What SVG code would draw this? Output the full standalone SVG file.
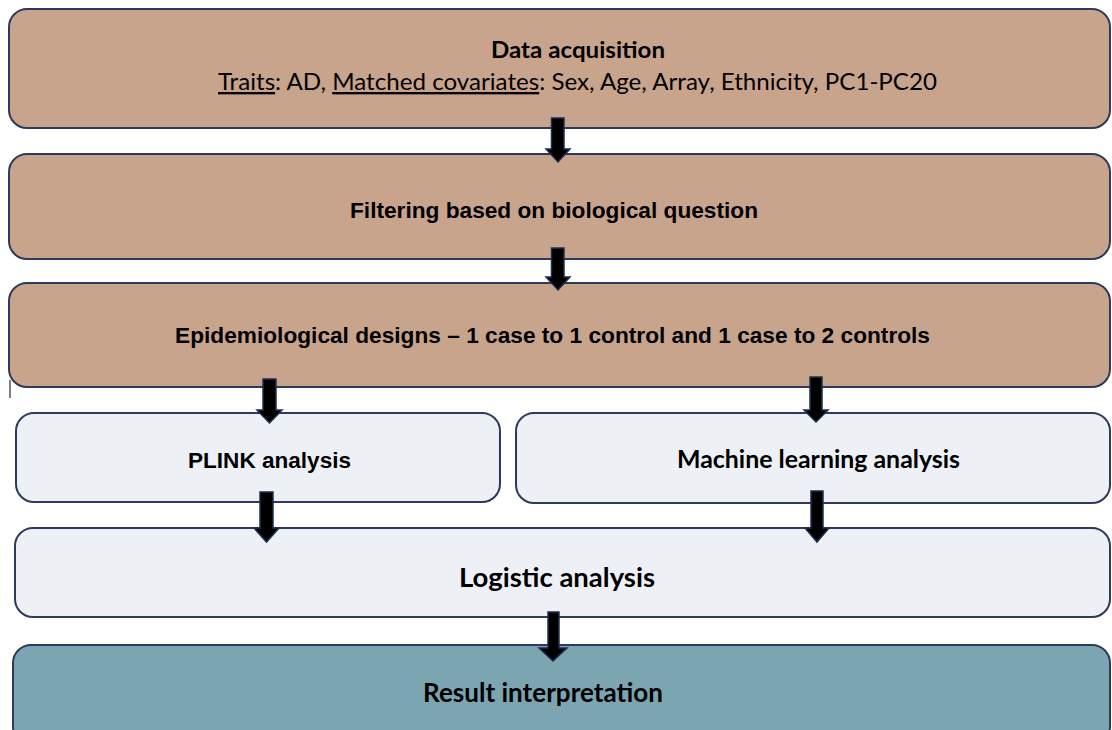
<svg xmlns="http://www.w3.org/2000/svg" width="1112" height="730" viewBox="0 0 1112 730">
<defs>
<style>
.brown{fill:#c8a48d;stroke:#2e3a59;stroke-width:2}
.light{fill:#edf0f5;stroke:#2e3a59;stroke-width:2}
.teal{fill:#7aa5b1;stroke:#2e3a59;stroke-width:2}
.cal{font-family:Lato,"Open Sans",sans-serif;fill:#000}
.ari{font-family:"Liberation Sans",Arial,sans-serif;font-weight:bold;fill:#000}
.arrow{fill:#000;stroke:#1f2f52;stroke-width:1.5;stroke-linejoin:miter}
</style>
</defs>
<rect width="1112" height="730" fill="#ffffff"/>
<g id="node-data">
<rect class="brown" x="9" y="9" width="1101" height="119" rx="18"/>
<text class="cal" x="578" y="58" font-size="23.5" font-weight="bold" text-anchor="middle" textLength="174" lengthAdjust="spacingAndGlyphs">Data acquisition</text>
<text class="cal" x="577.5" y="90" font-size="23.5" text-anchor="middle" textLength="719" lengthAdjust="spacingAndGlyphs"><tspan text-decoration="underline">Traits</tspan>: AD, <tspan text-decoration="underline">Matched covariates</tspan>: Sex, Age, Array, Ethnicity, PC1-PC20</text>
</g>
<g id="node-filter">
<rect class="brown" x="9" y="154" width="1101" height="105" rx="18"/>
<text class="ari" x="554" y="218" font-size="22.5" text-anchor="middle" textLength="408" lengthAdjust="spacingAndGlyphs">Filtering based on biological question</text>
</g>
<g id="node-epi">
<rect class="brown" x="9" y="283" width="1101" height="104" rx="18"/>
<text class="ari" x="552.5" y="343" font-size="22.5" text-anchor="middle" textLength="755" lengthAdjust="spacingAndGlyphs">Epidemiological designs – 1 case to 1 control and 1 case to 2 controls</text>
<line x1="10" y1="380" x2="10" y2="398" stroke="#000" stroke-width="1"/>
</g>
<g id="node-plink">
<rect class="light" x="16" y="413" width="484" height="89" rx="18"/>
<text class="ari" x="269.5" y="468" font-size="22.5" text-anchor="middle" textLength="163" lengthAdjust="spacingAndGlyphs">PLINK analysis</text>
</g>
<g id="node-ml">
<rect class="light" x="516" y="413" width="594" height="90" rx="18"/>
<text class="cal" x="818.5" y="468" font-size="24.5" font-weight="bold" text-anchor="middle" textLength="283" lengthAdjust="spacingAndGlyphs">Machine learning analysis</text>
</g>
<g id="node-logistic">
<rect class="light" x="15" y="528" width="1095" height="89" rx="18"/>
<text class="cal" x="557" y="587" font-size="26.5" font-weight="bold" text-anchor="middle" textLength="196" lengthAdjust="spacingAndGlyphs">Logistic analysis</text>
</g>
<g id="node-result">
<rect class="teal" x="13" y="645" width="1097" height="100" rx="18"/>
<text class="cal" x="543" y="702" font-size="26.5" font-weight="bold" text-anchor="middle" textLength="240" lengthAdjust="spacingAndGlyphs">Result interpretation</text>
</g>
<g id="connectors">
<path class="arrow" d="M551.5,118 H564 V149 H570 L558,162 L546,149 H551.5 Z"/>
<path class="arrow" d="M551.5,248 H564 V277 H570 L558,290 L546,277 H551.5 Z"/>
<path class="arrow" d="M263,379 H276 V410 H282 L269.5,423 L257,410 H263 Z"/>
<path class="arrow" d="M810,377 H822 V410 H828 L816,422 L804,410 H810 Z"/>
<path class="arrow" d="M260,492 H273 V528 H279 L266.5,542 L254,528 H260 Z"/>
<path class="arrow" d="M811,491 H823 V528 H829 L817,542 L805,528 H811 Z"/>
<path class="arrow" d="M548,612 H559 V648 H567 L553,661 L539,648 H548 Z"/>
</g>
</svg>
